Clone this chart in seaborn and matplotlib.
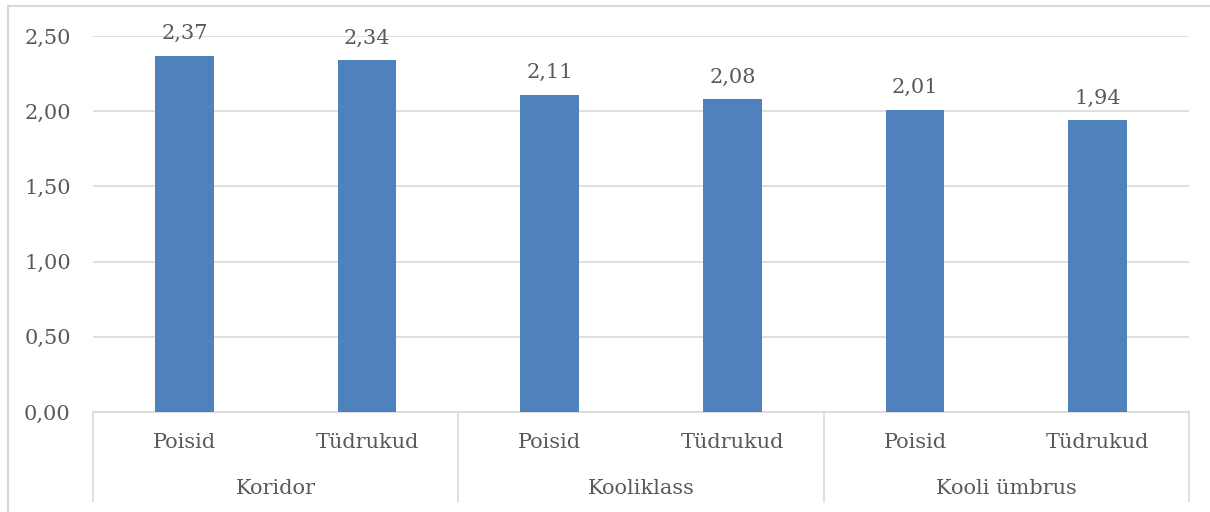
"""Bar chart: mean scores by location and gender (Excel-style grouped category axis)."""
import matplotlib.pyplot as plt
import matplotlib.transforms as mtransforms
from matplotlib.lines import Line2D
import seaborn as sns
import pandas as pd

sns.set_style("white")
plt.rcParams['font.family'] = ['DejaVu Serif']

# data
groups = ["Koridor", "Kooliklass", "Kooli ümbrus"]
genders = ["Poisid", "Tüdrukud"]
values = [2.37, 2.34, 2.11, 2.08, 2.01, 1.94]
y_ticks = [0.0, 0.5, 1.0, 1.5, 2.0, 2.5]

TEXT = '#595959'
GRID = '#d9d9d9'
BAR = '#4f81bd'

rows = []
for g in groups:
    for s in genders:
        rows.append({"key": f"{g}|{s}", "group": g, "gender": s})
df = pd.DataFrame(rows)
df["value"] = values

W, H = 1210, 512
fig = plt.figure(figsize=(W / 100, H / 100), dpi=100)
ax = fig.add_axes([93 / W, (H - 412) / H, (1189 - 93) / W, (412 - 36) / H])

sns.barplot(data=df, x="key", y="value", color=BAR, width=0.32,
            saturation=1, linewidth=0, ax=ax, zorder=3)

ax.set_ylim(0, 2.5)
ax.set_xlim(-0.5, len(df) - 0.5)
ax.set_yticks(y_ticks)
ax.set_yticklabels([f"{v:.2f}".replace('.', ',') for v in y_ticks])
ax.grid(axis='y', color=GRID, linewidth=1.2, zorder=0)
ax.set_axisbelow(True)
ax.tick_params(axis='y', length=0, pad=16, labelsize=15, labelcolor=TEXT)
ax.set_xticks([])
ax.set_xlabel("")
ax.set_ylabel("")
for side in ['top', 'left', 'right']:
    ax.spines[side].set_visible(False)
ax.spines['bottom'].set_color(GRID)
ax.spines['bottom'].set_linewidth(1.2)

ax.bar_label(ax.containers[0], fmt=lambda v: f"{v:.2f}".replace('.', ','),
             padding=9, fontsize=15, color=TEXT)

# two-level category axis
trans = mtransforms.blended_transform_factory(ax.transData, fig.transFigure)
for i, s in enumerate(df["gender"]):
    ax.text(i, (H - 442) / H, s, transform=trans, ha='center', va='center',
            fontsize=15, color=TEXT)
n = len(genders)
for j, g in enumerate(groups):
    ax.text(j * n + (n - 1) / 2, (H - 488) / H, g, transform=trans,
            ha='center', va='center', fontsize=15, color=TEXT)
for j in range(len(groups) + 1):
    x = j * n - 0.5
    ax.add_line(Line2D([x, x], [(H - 412) / H, (H - 502) / H], transform=trans,
                       color=GRID, linewidth=1.2, clip_on=False))

# chart frame (top and left edges visible)
fig.add_artist(Line2D([8 / W, 1.0], [(H - 6) / H] * 2, color=GRID, linewidth=1.5))
fig.add_artist(Line2D([8 / W] * 2, [0, (H - 6) / H], color=GRID, linewidth=1.5))

fig.savefig("out.png", dpi=100, facecolor='white')
